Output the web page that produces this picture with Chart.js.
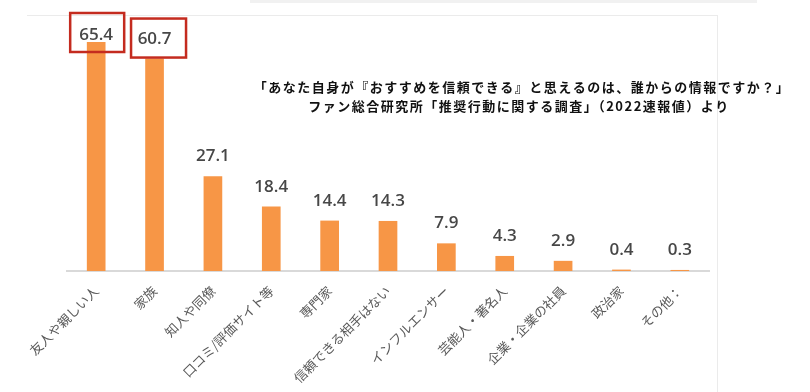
<!DOCTYPE html>
<html>
<head>
<meta charset="utf-8">
<script src="https://cdn.jsdelivr.net/npm/chart.js@4"></script>
<style>
  body { margin: 0; background: #fff; }
  #strip { position: absolute; left: 250px; top: 0; width: 507px; height: 3px; background: #f1f1f1; }
  #card { position: absolute; left: 27px; top: 15px; width: 690px; height: 400px;
          border-top: 1px solid #ebebeb; border-right: 1px solid #ebebeb; }
  #wrap { position: absolute; left: 0; top: 0; width: 810px; height: 392px; }
</style>
</head>
<body>
<div id="strip"></div>
<div id="card"></div>
<div id="wrap"><canvas id="chart" width="810" height="392"></canvas></div>
<script>
// ---- data ----
const categories = ['友人や親しい人', '家族', '知人や同僚', '口コミ/評価サイト等', '専門家',
  '信頼できる相手はない', 'インフルエンサー', '芸能人・著名人', '企業・企業の社員', '政治家', 'その他：'];
const values = [65.4, 60.7, 27.1, 18.4, 14.4, 14.3, 7.9, 4.3, 2.9, 0.4, 0.3];
const highlighted = [0, 1];
const noteLines = [
  '「あなた自身が『おすすめを信頼できる』と思えるのは、誰からの情報ですか？」',
  'ファン総合研究所「推奨行動に関する調査」（2022速報値）より'
];

// value labels, red boxes and the note text
const overlay = {
  id: 'overlay',
  afterDraw(chart) {
    const ctx = chart.ctx;
    const bars = chart.getDatasetMeta(0).data;
    ctx.save();
    ctx.font = '600 17px "Open Sans"';
    ctx.fillStyle = '#474747';
    ctx.textAlign = 'center';
    ctx.textBaseline = 'alphabetic';
    const labelY = [];
    bars.forEach((bar, i) => {
      const y = Math.max(bar.y - 15, 40);
      labelY[i] = y;
      ctx.fillText(values[i].toFixed(1), bar.x, y);
    });

    // boxes round the two top values
    ctx.strokeStyle = '#c42b1f';
    ctx.lineWidth = 2.5;
    const boxOff = [[-26, 28, -27, 12], [-23.5, 31.5, -25, 14]];
    highlighted.forEach((i, k) => {
      const b = bars[i];
      const o = boxOff[k];
      ctx.strokeRect(b.x + o[0], labelY[i] + o[2], o[1] - o[0], o[3] - o[2]);
    });

    ctx.fillStyle = '#111';
    ctx.font = 'bold 13px "Noto Sans CJK JP"';
    ctx.letterSpacing = '1.5px';
    ctx.textBaseline = 'middle';
    ctx.fillText(noteLines[0], 522, 87.5);
    ctx.fillText(noteLines[1], 519, 106);
    ctx.restore();
  }
};

new Chart(document.getElementById('chart'), {
  type: 'bar',
  data: {
    labels: categories,
    datasets: [{
      data: values,
      backgroundColor: '#f79646',
      borderWidth: 0,
      categoryPercentage: 1,
      barPercentage: 0.32
    }]
  },
  options: {
    responsive: false,
    animation: false,
    layout: { padding: { left: 67, right: 101, top: 26, bottom: 0 } },
    plugins: { legend: { display: false }, tooltip: { enabled: false } },
    scales: {
      x: {
        z: 1,
        grid: { display: false },
        border: { color: '#d9d9d9', width: 2 },
        ticks: {
          autoSkip: false,
          minRotation: 45,
          maxRotation: 45,
          color: '#595959',
          padding: 4,
          font: { family: '"Noto Sans CJK JP"', size: 13 }
        },
        afterFit(scale) { scale.height = 121; }
      },
      y: {
        display: false,
        min: 0,
        max: 70
      }
    }
  },
  plugins: [overlay]
});
</script>
</body>
</html>
